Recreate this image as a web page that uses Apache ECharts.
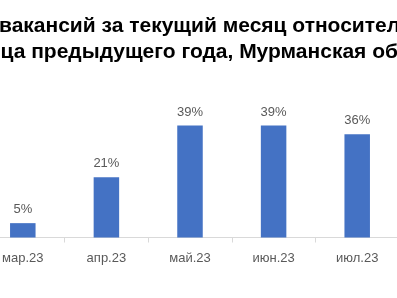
<!DOCTYPE html>
<html>
<head>
<meta charset="utf-8">
<script src="https://cdn.jsdelivr.net/npm/echarts@6/dist/echarts.min.js"></script>
<style>
html,body{margin:0;padding:0;background:#fff;overflow:hidden;width:397px;height:298px;position:relative;}
#chart{position:absolute;left:-19px;top:0;width:418px;height:298px;}
</style>
</head>
<body>
<div id="chart"></div>
<script>
const categories = ['мар.23', 'апр.23', 'май.23', 'июн.23', 'июл.23'];
const values = [5, 21, 39, 39, 36];
const titleLine1 = 'вакансий за текущий месяц относительно';
const titleLine2 = 'ца предыдущего года, Мурманская область';

const chart = echarts.init(document.getElementById('chart'), null, {renderer: 'canvas'});
const titleStyle = {
  fontFamily: '"Liberation Sans", Arial, sans-serif',
  fontWeight: 'bold',
  fontSize: 21,
  color: '#000000'
};
chart.setOption({
  animation: false,
  backgroundColor: '#ffffff',
  title: [
    {text: titleLine1, left: 18, top: 15.5, padding: 0, textStyle: titleStyle},
    {text: titleLine2, left: 19.5, top: 41.5, padding: 0, textStyle: titleStyle}
  ],
  grid: {left: 0, right: 0, top: 94, bottom: 60.5, containLabel: false},
  xAxis: {
    type: 'category',
    data: categories,
    boundaryGap: true,
    axisLine: {show: true, lineStyle: {color: '#d9d9d9', width: 1}},
    axisTick: {show: true, length: 5, lineStyle: {color: '#d9d9d9'}},
    axisLabel: {
      color: '#595959',
      fontSize: 13,
      fontFamily: '"Liberation Sans", Arial, sans-serif',
      margin: 14.5
    }
  },
  yAxis: {
    type: 'value',
    min: 0,
    max: 50,
    show: false,
    splitLine: {show: false}
  },
  series: [{
    type: 'bar',
    data: values,
    barWidth: 25.5,
    itemStyle: {color: '#4472C4'},
    label: {
      show: true,
      position: 'top',
      distance: 7,
      formatter: '{c}%',
      color: '#595959',
      fontSize: 13,
      fontFamily: '"Liberation Sans", Arial, sans-serif'
    }
  }]
});
</script>
</body>
</html>
